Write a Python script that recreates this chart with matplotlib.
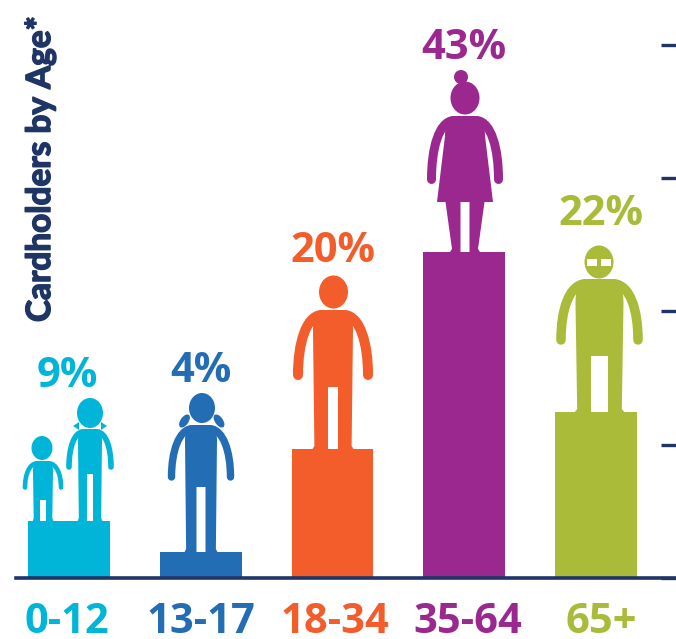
import matplotlib
matplotlib.use("Agg")
import matplotlib.patheffects as pe
import matplotlib.pyplot as plt
from matplotlib.patches import Ellipse, PathPatch, Polygon, Rectangle
from matplotlib.path import Path

# age groups, printed shares, and bar heights as drawn (unlabelled axis, ticks every 10)
ages = ["0-12", "13-17", "18-34", "35-64", "65+"]
shares = ["9%", "4%", "20%", "43%", "22%"]
heights = [4.3, 1.95, 9.7, 24.5, 12.45]
colors = ["#00B5D8", "#236DB5", "#F35C2B", "#9B288E", "#A9BB38"]
y_ticks = [0, 10, 20, 30, 40]
NAVY = "#1F3566"
FONT = "Open Sans"
W, H = 676, 639

# text anchors in pixels (labels sit off-centre from the bars in the original)
share_pos = [(67, 387), (201, 382), (333, 262), (464, 59), (601, 225)]
age_pos = [(67, 633), (201, 633), (335, 633), (468, 633), (601, 633)]


def person(ax, c, cx, top, base, tw, arm, hand, aw, crotch, gap, head, dress=None):
    """Pictogram in pixel coords. head=(cx, cy, w, h); dress=(y_hem, half_width)."""
    ax.add_patch(Ellipse(head[:2], head[2], head[3], color=c, lw=0))
    for s in (-1, 1):
        verts = [(cx + s * tw * 0.6, top + aw / 2),
                 (cx + s * (tw + (arm - tw) * 0.45), top + (hand - top) * 0.1),
                 (cx + s * arm, top + (hand - top) * 0.5),
                 (cx + s * arm, hand)]
        codes = [Path.MOVETO, Path.CURVE4, Path.CURVE4, Path.CURVE4]
        ax.add_patch(PathPatch(Path(verts, codes), fc="none", ec=c,
                               lw=aw * 72 / 100, capstyle="round"))
    r = tw * 0.5
    if dress:
        hem, hw = dress
        verts = [(cx - r, top), (cx + r, top),
                 (cx + tw, top), (cx + tw, top + tw),
                 (cx + hw, hem), (cx - hw, hem),
                 (cx - tw, top + tw),
                 (cx - tw, top), (cx - r, top), (cx - r, top)]
        codes = [Path.MOVETO, Path.LINETO, Path.CURVE3, Path.CURVE3, Path.LINETO, Path.LINETO,
                 Path.LINETO, Path.CURVE3, Path.CURVE3, Path.CLOSEPOLY]
        ax.add_patch(PathPatch(Path(verts, codes), fc=c, ec="none"))
        for s in (-1, 1):
            ax.add_patch(Polygon([(cx + s * gap, hem), (cx + s * 19.5, hem),
                                  (cx + s * 13, base - 3), (cx + s * 15, base), (cx + s * gap, base)],
                                 color=c, lw=0))
    else:
        verts = [(cx - r, top), (cx + r, top),
                 (cx + tw, top), (cx + tw, top + tw),
                 (cx + tw * 0.93, base - 3), (cx + tw * 1.03, base),
                 (cx + gap, base), (cx + gap, crotch), (cx - gap, crotch), (cx - gap, base),
                 (cx - tw * 1.03, base), (cx - tw * 0.93, base - 3),
                 (cx - tw, top + tw),
                 (cx - tw, top), (cx - r, top), (cx - r, top)]
        codes = [Path.MOVETO, Path.LINETO, Path.CURVE3, Path.CURVE3] + [Path.LINETO] * 9 + \
                [Path.CURVE3, Path.CURVE3, Path.CLOSEPOLY]
        ax.add_patch(PathPatch(Path(verts, codes), fc=c, ec="none"))


fig = plt.figure(figsize=(W / 100, H / 100), dpi=100)

# bars on a real axis: baseline at y=578px, top tick at y=45px
ax = fig.add_axes([16 / W, 1 - 578 / H, (W - 16) / W, (578 - 45) / H])
x = range(len(ages))
ax.bar(x, heights, width=0.622, color=colors, linewidth=0)
ax.set_xlim(-0.402, 4.607)
ax.set_ylim(0, 40)
ax.yaxis.tick_right()
ax.set_yticks(y_ticks)
ax.set_yticklabels([])
ax.tick_params(axis="y", direction="in", length=15 * 0.72, width=2.4, color=NAVY)
ax.set_xticks([])
for side in ("top", "left", "right"):
    ax.spines[side].set_visible(False)
ax.spines["bottom"].set_color(NAVY)
ax.spines["bottom"].set_linewidth(2.6)
ax.patch.set_alpha(0)

# overlay in pixel coords for the pictograms and text
ov = fig.add_axes([0, 0, 1, 1])
ov.set_xlim(0, W)
ov.set_ylim(H, 0)
ov.axis("off")
ov.patch.set_alpha(0)

# 0-12: two children
c = colors[0]
person(ov, c, 43, 461, 521, 10, 18, 487.5, 4.6, 500, 3, (42, 448, 21, 24))
person(ov, c, 90, 429, 521, 12, 21, 467, 5.6, 474, 3, (90, 413, 26, 30))
ov.add_patch(Polygon([(73, 426), (79, 422), (79, 430)], color=c, lw=0))
ov.add_patch(Polygon([(107, 426), (101, 422), (101, 430)], color=c, lw=0))

# 13-17: teen with pigtails
c = colors[1]
person(ov, c, 201, 425, 552, 16, 29.5, 477, 7.4, 487, 4.5, (202, 408, 26, 30))
ov.add_patch(Ellipse((184.5, 421), 8, 15, angle=35, color=c, lw=0))
ov.add_patch(Ellipse((219, 421), 8, 15, angle=-35, color=c, lw=0))

# 18-34: adult
person(ov, colors[2], 333, 310, 449, 20, 35, 375, 10, 387, 5, (333.5, 292, 29, 33))

# 35-64: woman with bun and dress
c = colors[3]
person(ov, c, 465, 116, 252, 20, 33.5, 179.5, 9, 202, 4.5, (465, 98, 29, 33), dress=(202, 28))
ov.add_patch(Ellipse((461, 77), 14, 14, color=c, lw=0))

# 65+: older man with glasses
c = colors[4]
person(ov, c, 599.5, 279, 412, 24, 38.5, 340, 9.5, 356, 8.5, (599, 262, 29, 33))
ov.add_patch(Rectangle((587, 259), 10, 7, color="white", lw=0))
ov.add_patch(Rectangle((601, 259), 10, 7, color="white", lw=0))

for s, a, (sx, sy), (ax_, ay), c in zip(shares, ages, share_pos, age_pos, colors):
    ov.text(sx, sy, s, color=c, family=FONT, weight="bold", fontsize=30,
            ha="center", va="baseline")
    ov.text(ax_, ay, a, color=c, family=FONT, weight="bold", fontsize=30,
            ha="center", va="baseline")

# Lato is the closest narrow face; a thin stroke brings it up to the heavy original
ov.text(50, 169, "Cardholders by Age*", color=NAVY, family="Lato", weight="bold",
        fontsize=24, rotation=90, ha="center", va="baseline", rotation_mode="anchor",
        path_effects=[pe.withStroke(linewidth=1.1, foreground=NAVY)])

fig.savefig("out.png", dpi=100)
